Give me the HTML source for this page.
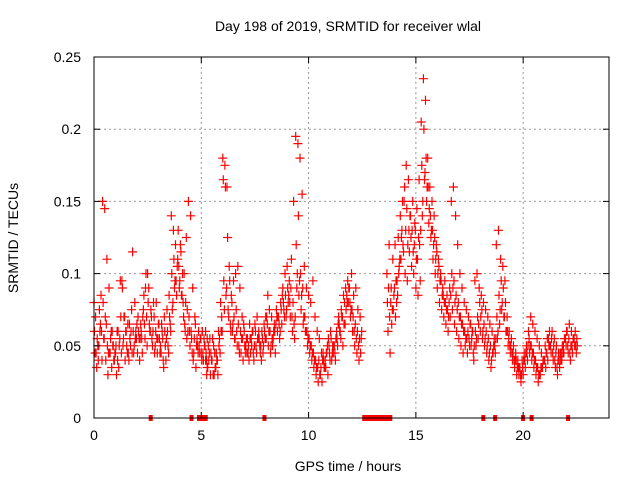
<!DOCTYPE html>
<html><head><meta charset="utf-8"><style>
body{margin:0;background:#fff;}
svg{display:block;font-family:"Liberation Sans",sans-serif;}
</style></head><body>
<svg id="chart" width="640" height="480">
<text x="348" y="31" font-size="14" text-anchor="middle">Day 198 of 2019, SRMTID for receiver wlal</text>
<text x="348" y="471" font-size="14" text-anchor="middle">GPS time / hours</text>
<text transform="translate(18,238) rotate(-90)" font-size="14" text-anchor="middle">SRMTID / TECUs</text>
<g id="grid"></g><g id="marks"></g><g id="axes"></g>
</svg>
<script>
const xTicks=[0,5,10,15,20];
const yTicks=[0,0.05,0.1,0.15,0.2,0.25];
const yTickLabels=["0","0.05","0.1","0.15","0.2","0.25"];
const seg1Start=0, seg2Start=5.2, seg3Start=13.65, sampleStep=0.1;
const s1a=[80,45,40,65,150,145,110,90,60,50,45,40,55,95,70,60,45,50,115,80,65,55,60,75,90,100,60,55,70,80,65,50,55,60,75,85,140,130,120,110,95,85,100,125,150,140,90,70,55,50,45,40,60];
const s1b=[60,35,50,85,80,70,50,45,35,40,50,60,95,90,70,50,40,60,60,55,45,40,55,85,100,80,60,50,45,55,65,45,40,50,60,70,100,110,95,130,120,100,65,55,70,60,40,65,50,45,40,55,45];
const s1c=[45,55,75,60,55,40,30,45,60,40,30,35,70,50,40,45,65,75,45,60,70,55,45,65,70,90,75,60,50,45,55,65,35,40,50,65,75,90,85,105,115,80,60,75,60,55,45,35,45,55,60,50,40];
const s1d=[70,50,60,40,55,65,45,55,50,45,60,50,45,55,60,65,55,45,50,55,60,65,70,55,50,65,70,80,60,55,45,60,70,55,45,60,80,95,105,90,85,70,80,60,50,45,55,50,60,55,45,50,55];
const s2a=[40,35,55,40,30,45,60,80,180,175,160,105,85,95,100,105,90,70,60,55,50,45,60,65,70,55,40,50,70,85,60,55,65,75,70,80,90,100,105,95,110,150,195,190,180,155,105,90,85,80,95,70,60,55,45,40,35,30,40,45,50,60,70,55,50,65,80,90,100,85,90,75,70];
const s2b=[45,50,30,55,45,40,50,60,165,160,125,95,80,70,75,65,60,55,50,45,40,55,45,60,55,50,60,65,55,50,45,50,60,70,65,75,80,85,90,80,70,65,120,140,100,90,70,60,55,50,45,40,35,30,25,35,45,55,60,50,45,55,65,75,85,90,95,80,75,60,55,50,45];
const s2c=[30,40,45,30,35,40,55,70,95,85,75,65,60,55,60,50,45,40,45,55,65,50,40,50,55,45,55,60,70,60,50,55,45,60,55,65,75,70,80,70,60,55,90,85,75,65,60,50,45,40,35,30,25,30,40,35,45,50,55,45,40,50,60,70,65,75,80,70,60,50,45,40,55];
const s2d=[35,45,40,50,35,30,45,60,75,90,70,60,65,55,50,45,55,65,50,45,55,60,50,45,60,50,45,55,65,75,70,60,65,70,60,85,70,75,85,90,80,70,100,95,85,70,60,55,50,45,40,35,40,35,45,40,50,45,40,50,55,65,60,70,80,85,90,75,70,65,60,55,60];
const s3a=[100,120,90,75,70,85,110,130,150,175,165,140,150,135,145,165,205,235,220,180,160,150,140,120,110,100,90,95,85,80,150,160,140,120,100,90,80,75,70,65,60,95,100,90,85,80,75,70,65,60,55,120,130,110,105,95,70,60,55,50,45,40,35,40,45,50,60,70,65,60,55,50,45,40,35,40,50,60,55,50,45,40,45,55,60,65,60,55,50];
const s3b=[80,70,65,85,95,125,140,150,160,145,130,125,115,130,110,120,175,200,180,160,140,130,125,115,105,95,85,80,75,90,100,95,85,80,70,65,60,55,55,50,45,60,70,80,75,65,60,55,50,45,50,70,85,95,90,80,60,50,45,40,40,35,30,35,40,45,55,50,45,40,35,30,35,40,45,55,50,45,40,35,40,45,50,55,50,45,50,55,45];
const s3c=[60,45,75,90,80,100,110,120,100,95,115,105,100,90,85,95,140,165,150,135,125,110,100,90,80,75,70,65,60,70,75,65,60,55,50,45,50,45,50,55,40,50,55,60,55,50,45,40,35,45,45,55,65,75,70,60,50,45,40,35,30,30,25,30,35,40,45,40,35,30,25,30,35,40,45,50,45,40,35,30,35,40,45,50,45,40,45,50,55];
const s3d=[90,80,110,120,95,105,125,115,130,120,140,130,120,110,125,130,150,170,160,145,130,120,110,100,95,85,80,75,70,85,90,80,75,70,65,60,55,60,65,60,50,55,65,70,60,55,50,45,40,50,55,60,75,80,70,60,55,50,45,40,35,35,30,40,45,50,50,45,40,35,30,35,40,50,55,60,55,50,45,40,45,50,55,60,55,50,55,60,50];
const gapStarts=[2.55,4.45,4.8,7.85,12.5,18.05,18.6,19.9,20.3,22.0];
const gapEnds=[2.7,4.55,5.3,7.95,13.9,18.2,18.7,20.0,20.4,22.1];

const L=94,R=609,T=57,B=418;
const xs=h=>L+h/24*(R-L);
const ys=v=>B-v/0.25*(B-T);
const NS="http://www.w3.org/2000/svg";
const grid=document.getElementById('grid'),marks=document.getElementById('marks'),axes=document.getElementById('axes');
function mk(tag,attrs,parent){const e=document.createElementNS(NS,tag);for(const k in attrs)e.setAttribute(k,attrs[k]);parent.appendChild(e);return e;}

xTicks.forEach((t,i)=>{
  if(t>0){const g=mk('line',{x1:xs(t),x2:xs(t),y1:T,y2:B,stroke:'#999','stroke-dasharray':'2,3'},grid);
  
  }
  const lb=mk('text',{x:xs(t),y:B+22,'font-size':14,'text-anchor':'middle'},axes);lb.textContent=String(t);
  
  
  mk('line',{x1:xs(t),x2:xs(t),y1:B,y2:B-6,stroke:'#000'},axes);
  mk('line',{x1:xs(t),x2:xs(t),y1:T,y2:T+6,stroke:'#000'},axes);
});
yTicks.forEach((v,i)=>{
  if(v>0&&v<0.25){const g=mk('line',{x1:L,x2:R,y1:ys(v),y2:ys(v),stroke:'#999','stroke-dasharray':'2,3'},grid);
  
  }
  const lb=mk('text',{x:L-13,y:ys(v)+5,'font-size':14,'text-anchor':'end'},axes);lb.textContent=yTickLabels[i];
  
  
  mk('line',{x1:L,x2:L+6,y1:ys(v),y2:ys(v),stroke:'#000'},axes);
  mk('line',{x1:R,x2:R-6,y1:ys(v),y2:ys(v),stroke:'#000'},axes);
});
const frame=mk('rect',{x:L,y:T,width:R-L,height:B-T,fill:'none',stroke:'#000'},axes);



const series=[[seg1Start,s1a],[seg1Start,s1b],[seg1Start,s1c],[seg1Start,s1d],[seg2Start,s2a],[seg2Start,s2b],[seg2Start,s2c],[seg2Start,s2d],[seg3Start,s3a],[seg3Start,s3b],[seg3Start,s3c],[seg3Start,s3d]];
let d='';
series.forEach(([st,arr],k)=>{
  arr.forEach((v,i)=>{
    const x=xs(st+i*sampleStep+(k%4)*0.025),y=ys(v/1000);
    d+=`M${(x-4.5).toFixed(1)} ${y.toFixed(1)}h9M${x.toFixed(1)} ${(y-4.5).toFixed(1)}v9`;
  });
});
const p=mk('path',{d:d,stroke:'#f00','stroke-width':1.2,fill:'none'},marks);


gapStarts.forEach((s,i)=>{
  const r=mk('rect',{x:xs(s),y:B-3,width:Math.max(4,xs(gapEnds[i])-xs(s)),height:6,fill:'#f00'},marks);
  
  
});
</script>
</body></html>
